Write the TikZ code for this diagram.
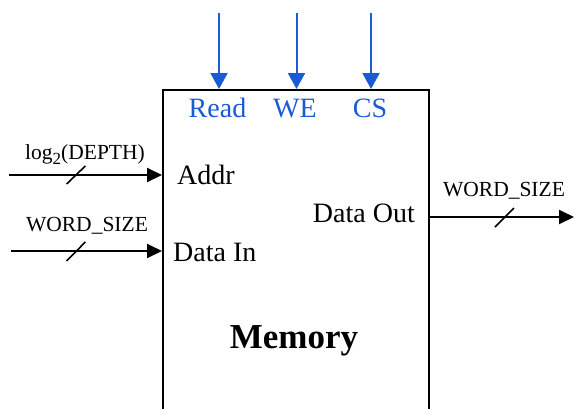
\documentclass[tikz,border=0pt]{standalone}
\usepackage{fontspec}
\setmainfont{Liberation Serif}
\usetikzlibrary{arrows.meta}
\definecolor{sigblue}{RGB}{26,90,215}
\tikzset{
  x=1pt, y=-1pt,
  box/.style={draw=black, line width=2pt, fill=none, inner sep=0pt, anchor=north west,
              minimum width=266pt, minimum height=360pt},
  bluearrow/.style={draw=sigblue, line width=2pt, -{Triangle[length=16pt,width=17pt]}},
  blackarrow/.style={draw=black, line width=2pt, -{Triangle[length=15pt,width=14pt]}},
  busslash/.style={draw=black, line width=1.6pt},
  portlbl/.style={font=\fontsize{28}{30}\selectfont, inner sep=0pt},
  ctrllbl/.style={font=\fontsize{28}{30}\selectfont, text=sigblue, inner sep=0pt, anchor=base},
  widthlbl/.style={font=\fontsize{21.5}{24}\selectfont, inner sep=0pt, anchor=base},
  titlelbl/.style={font=\fontsize{35}{38}\selectfont\bfseries, inner sep=0pt, anchor=base}
}
\newcommand{\lowsub}[1]{\raisebox{-5pt}{\fontsize{17}{18}\selectfont #1}}
\begin{document}
\begin{tikzpicture}
\useasboundingbox (0,0) rectangle (574,408);
\clip (0,0) rectangle (574,408);
\node[box] (mem) at (162,89) {};
% control inputs
\coordinate (r0) at (219,13);
\coordinate (w0) at (296.5,13);
\coordinate (c0) at (371,13);
\draw[bluearrow] (r0) -- (r0 |- mem.north);
\draw[bluearrow] (w0) -- (w0 |- mem.north);
\draw[bluearrow] (c0) -- (c0 |- mem.north);
\node[ctrllbl] (read) at (217.5,117) {Read};
\node[ctrllbl] (we) at (295,117) {WE};
\node[ctrllbl] (cs) at (370,117) {CS};
% address input
\coordinate (a0) at (9,175);
\draw[blackarrow] (a0) -- (a0 -| mem.west);
\draw[busslash] (66.6,184) -- (85.3,166);
\node[widthlbl] (alab) at (85,159) {log\lowsub{2}(DEPTH)};
\node[portlbl, anchor=base west] (addr) at (177,184) {Addr};
% data input
\coordinate (d0) at (11,251);
\draw[blackarrow] (d0) -- (d0 -| mem.west);
\draw[busslash] (66.6,261) -- (85.3,242);
\node[widthlbl] (dlab) at (87,231) {WORD\_SIZE};
\node[portlbl, anchor=base west] (din) at (173,261) {Data In};
% data output
\coordinate (o1) at (574,217);
\draw[blackarrow] (o1 -| mem.east) -- (o1);
\draw[busslash] (495,227) -- (514,208);
\node[widthlbl] (olab) at (504,196) {WORD\_SIZE};
\node[portlbl, anchor=base east] (dout) at (415,222.7) {Data Out};
% title
\node[titlelbl] (title) at (294,348) {Memory};
\end{tikzpicture}
\end{document}
